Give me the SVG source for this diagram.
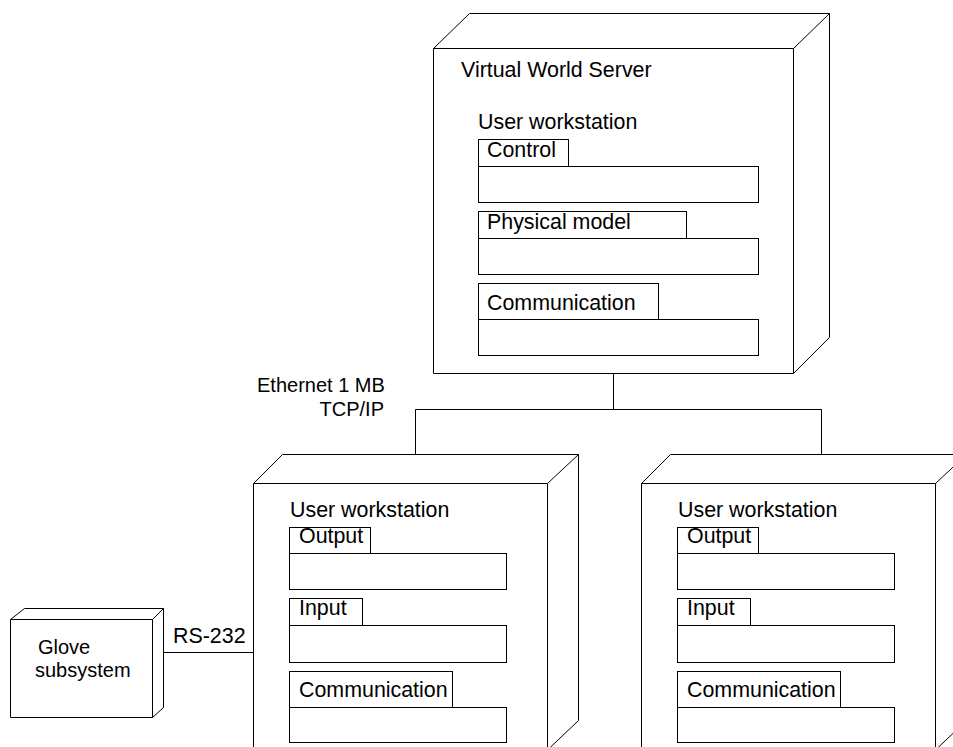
<svg xmlns="http://www.w3.org/2000/svg" width="953" height="747" viewBox="0 0 953 747">
  <style>
    .box { fill: #fff; stroke: #000; stroke-width: 1; }
    .edge { fill: none; stroke: #000; stroke-width: 1; }
    text { font-family: "Liberation Sans", Arial, sans-serif; font-size: 21.4px; fill: #000; }
    .small { font-size: 20px; }
  </style>
  <rect width="953" height="747" fill="#fff"/>

  <!-- connectors -->
  <g id="connectors">
    <polyline class="edge" points="613.5,373 613.5,409.5"/>
    <polyline class="edge" points="415.5,454 415.5,409.5 821.5,409.5 821.5,454"/>
    <line class="edge" x1="163" y1="652.5" x2="253" y2="652.5"/>
    <text class="small" x="257" y="392">Ethernet 1 MB</text>
    <text class="small" x="384" y="416" text-anchor="end">TCP/IP</text>
    <text x="173" y="643">RS-232</text>
  </g>

  <!-- server node -->
  <g id="virtual-world-server">
    <path class="box" d="M433.5,48.5 L469.5,13.5 L829.5,13.5 L829.5,337.5 L793.5,373.5 L433.5,373.5 Z"/>
    <path class="edge" d="M433.5,48.5 L793.5,48.5 L829.5,13.5 M793.5,48.5 L793.5,373.5"/>
    <text x="461" y="77">Virtual World Server</text>
    <text x="478" y="129">User workstation</text>
    <g id="server-control">
      <rect class="box" x="478.5" y="139.5" width="90" height="27"/>
      <rect class="box" x="478.5" y="166.5" width="280" height="36"/>
      <text x="487" y="157">Control</text>
    </g>
    <g id="server-physical-model">
      <rect class="box" x="478.5" y="211.5" width="208" height="27"/>
      <rect class="box" x="478.5" y="238.5" width="280" height="36"/>
      <text x="487" y="229">Physical model</text>
    </g>
    <g id="server-communication">
      <rect class="box" x="478.5" y="283.5" width="180" height="36"/>
      <rect class="box" x="478.5" y="319.5" width="280" height="36"/>
      <text x="487" y="310">Communication</text>
    </g>
  </g>

  <!-- left user workstation -->
  <g id="workstation-left">
    <path class="box" d="M253.5,483.5 L282.5,454.5 L578.5,454.5 L578.5,720.5 L547.5,750 L253.5,750 Z"/>
    <path class="edge" d="M253.5,483.5 L547.5,483.5 L578.5,454.5 M547.5,483.5 L547.5,750"/>
    <text x="290" y="517">User workstation</text>
    <rect class="box" x="289.5" y="527.5" width="81" height="26"/>
    <rect class="box" x="289.5" y="553.5" width="217" height="36"/>
    <text x="299" y="543">Output</text>
    <rect class="box" x="289.5" y="598.5" width="73" height="27"/>
    <rect class="box" x="289.5" y="625.5" width="217" height="37"/>
    <text x="299" y="615">Input</text>
    <rect class="box" x="289.5" y="671.5" width="163" height="36"/>
    <rect class="box" x="289.5" y="707.5" width="217" height="35"/>
    <text x="299" y="697">Communication</text>
  </g>

  <!-- right user workstation -->
  <g id="workstation-right">
    <path class="box" d="M641.5,483.5 L670.5,454.5 L966.5,454.5 L966.5,720.5 L935.5,750 L641.5,750 Z"/>
    <path class="edge" d="M641.5,483.5 L935.5,483.5 L966.5,454.5 M935.5,483.5 L935.5,750"/>
    <text x="678" y="517">User workstation</text>
    <rect class="box" x="677.5" y="527.5" width="81" height="26"/>
    <rect class="box" x="677.5" y="553.5" width="217" height="36"/>
    <text x="687" y="543">Output</text>
    <rect class="box" x="677.5" y="598.5" width="73" height="27"/>
    <rect class="box" x="677.5" y="625.5" width="217" height="37"/>
    <text x="687" y="615">Input</text>
    <rect class="box" x="677.5" y="671.5" width="163" height="36"/>
    <rect class="box" x="677.5" y="707.5" width="217" height="35"/>
    <text x="687" y="697">Communication</text>
  </g>

  <!-- glove subsystem -->
  <g id="glove-subsystem">
    <path class="box" d="M10.5,619.5 L24.5,608.5 L163.5,608.5 L163.5,707.5 L152.5,717.5 L10.5,717.5 Z"/>
    <path class="edge" d="M10.5,619.5 L152.5,619.5 L163.5,608.5 M152.5,619.5 L152.5,717.5"/>
    <text class="small" x="38" y="654">Glove</text>
    <text class="small" x="35" y="677">subsystem</text>
  </g>
</svg>
